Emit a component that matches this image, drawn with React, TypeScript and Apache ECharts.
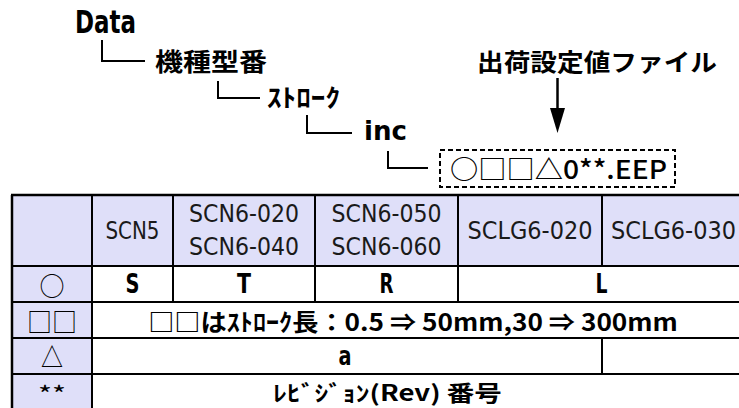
import React, { useEffect, useRef } from "react";
import * as echarts from "echarts";

// ---- content ----
const treeLabels = ["Data", "機種型番", "ｽﾄﾛｰｸ", "inc"];
const fileTitle = "出荷設定値ファイル";
const fileName = "○□□△0**.EEP";
const symbolLabels = ["○", "□□", "△", "**"];
const modelLabels = [
  ["SCN5"],
  ["SCN6-020", "SCN6-040"],
  ["SCN6-050", "SCN6-060"],
  ["SCLG6-020"],
  ["SCLG6-030"],
];
const prefixCodes = ["S", "T", "R", "L"];
const prefixSpans = [1, 1, 1, 2];
const strokeNote = "□□はｽﾄﾛｰｸ長：0.5 ⇒ 50mm,30 ⇒ 300mm";
const typeCodes = ["a", ""];
const typeSpans = [4, 1];
const revisionNote = "ﾚﾋﾞｼﾞｮﾝ(Rev) 番号";

// ---- layout ----
const FONT_JP = '"Noto Sans CJK JP", sans-serif';
const FONT_NARROW = '"Liberation Sans Narrow", "DejaVu Sans Condensed", "Liberation Sans", sans-serif';
const LAVENDER = "#DFDFF9";

const colX = [12, 92, 173, 315, 458, 602, 745];
const rowY = [195, 266, 302, 338, 374, 410];

let ctx: CanvasRenderingContext2D | null = null;
function measure(text: string, size: number, weight: string, family: string) {
  if (!ctx) ctx = document.createElement("canvas").getContext("2d");
  if (!ctx) return text.length * size * 0.6;
  ctx.font = `${weight} ${size}px ${family}`;
  return ctx.measureText(text).width || 1;
}

function txt(
  text: string,
  cx: number,
  cy: number,
  size: number,
  weight: string,
  family: string,
  width?: number,
  fill = "#000"
) {
  const sx = width ? width / measure(text, size, weight, family) : 1;
  return {
    type: "text",
    x: cx,
    y: cy,
    scaleX: sx,
    z: 10,
    style: {
      text,
      fontSize: size,
      fontWeight: weight,
      fontFamily: family,
      fill,
      align: "center",
      verticalAlign: "middle",
    },
  };
}

function seg(x1: number, y1: number, x2: number, y2: number, w = 2) {
  return {
    type: "line",
    z: 5,
    shape: { x1, y1, x2, y2 },
    style: { stroke: "#000", lineWidth: w },
  };
}

function buildGraphic() {
  const g: any[] = [];

  // tree
  const treeBoxes = [
    { l: 75, r: 136, cy: 22, size: 32, fam: FONT_NARROW },
    { l: 155, r: 267, cy: 60.5, size: 25, fam: FONT_JP },
    { l: 267, r: 340, cy: 96, size: 25, fam: FONT_JP },
    { l: 364, r: 407, cy: 131, size: 27, fam: FONT_NARROW },
  ];
  treeLabels.forEach((t, i) => {
    const b = treeBoxes[i];
    g.push(txt(t, (b.l + b.r) / 2, b.cy, b.size, "bold", b.fam, b.r - b.l));
  });
  const connectors = [
    [[102, 40], [102, 61], [145, 61]],
    [[218, 81], [218, 98], [260, 98]],
    [[307, 115], [307, 133], [352, 133]],
    [[388, 151], [388, 168], [428, 168]],
  ];
  connectors.forEach((pts) =>
    g.push({
      type: "polyline",
      z: 5,
      shape: { points: pts },
      style: { stroke: "#000", lineWidth: 2, fill: null },
    })
  );

  // file title + arrow
  g.push(txt(fileTitle, 597, 61, 24, "bold", FONT_JP, 240));
  g.push(seg(557.5, 78, 557.5, 110, 2.5));
  g.push({
    type: "polygon",
    z: 5,
    shape: { points: [[550, 108], [565, 108], [557.5, 133]] },
    style: { fill: "#000" },
  });
  // dashed file box
  g.push({
    type: "rect",
    z: 5,
    shape: { x: 440, y: 150, width: 235, height: 37 },
    style: { fill: null, stroke: "#000", lineWidth: 2, lineDash: [5, 3] },
  });
  g.push(txt(fileName, 558.5, 168, 26, "500", FONT_JP, 217));

  // table fills
  g.push({
    type: "rect",
    z: 1,
    shape: { x: colX[0], y: rowY[0], width: colX[6] - colX[0], height: rowY[5] - rowY[0] },
    style: { fill: "#fff" },
  });
  g.push({
    type: "rect",
    z: 2,
    shape: { x: colX[0], y: rowY[0], width: colX[6] - colX[0], height: rowY[1] - rowY[0] },
    style: { fill: LAVENDER },
  });
  g.push({
    type: "rect",
    z: 2,
    shape: { x: colX[0], y: rowY[0], width: colX[1] - colX[0], height: rowY[5] - rowY[0] },
    style: { fill: LAVENDER },
  });

  // table lines
  for (let r = 1; r < rowY.length - 1; r++) g.push(seg(colX[0], rowY[r], colX[6], rowY[r], 2));
  g.push(seg(colX[1], rowY[0], colX[1], rowY[5], 2));
  for (let c = 2; c < colX.length - 1; c++) g.push(seg(colX[c], rowY[0], colX[c], rowY[1], 2));
  let c0 = 1;
  prefixSpans.forEach((s, i) => {
    if (i > 0) g.push(seg(colX[c0], rowY[1], colX[c0], rowY[2], 2));
    c0 += s;
  });
  c0 = 1;
  typeSpans.forEach((s, i) => {
    if (i > 0) g.push(seg(colX[c0], rowY[3], colX[c0], rowY[4], 2));
    c0 += s;
  });
  g.push(seg(colX[0] - 1, rowY[0], colX[6], rowY[0], 2.5));
  g.push(seg(colX[0], rowY[0], colX[0], rowY[5], 2.5));

  // header texts
  const modelWidths = [54, 110, 110, 125, 125];
  modelLabels.forEach((lines, i) => {
    const cx = (colX[i + 1] + colX[i + 2]) / 2;
    const cyMid = (rowY[0] + rowY[1]) / 2;
    if (lines.length === 1) {
      g.push(txt(lines[0], cx, cyMid, 25, "normal", FONT_NARROW, modelWidths[i], "#1a1a1a"));
    } else {
      g.push(txt(lines[0], cx, cyMid - 17, 25, "normal", FONT_NARROW, modelWidths[i], "#1a1a1a"));
      g.push(txt(lines[1], cx, cyMid + 16, 25, "normal", FONT_NARROW, modelWidths[i], "#1a1a1a"));
    }
  });

  // symbol column
  const symSize = [26, 26, 26, 22];
  const symW = [25, 50, 22, 28];
  const symCy = [284, 320, 356, 393];
  symbolLabels.forEach((s, i) => {
    g.push(txt(s, (colX[0] + colX[1]) / 2, symCy[i], symSize[i], "normal", FONT_JP, symW[i]));
  });

  // prefix row
  const codeW = [14, 14, 14, 12];
  c0 = 1;
  prefixCodes.forEach((code, i) => {
    const s = prefixSpans[i];
    const cx = (colX[c0] + colX[c0 + s]) / 2;
    g.push(txt(code, cx, (rowY[1] + rowY[2]) / 2, 27, "bold", FONT_NARROW, codeW[i]));
    c0 += s;
  });
  // stroke note
  g.push(txt(strokeNote, 413, (rowY[2] + rowY[3]) / 2, 24, "bold", FONT_JP, 530));
  // type row
  c0 = 1;
  typeCodes.forEach((code, i) => {
    const s = typeSpans[i];
    if (code)
      g.push(txt(code, (colX[c0] + colX[c0 + s]) / 2 - 2, (rowY[3] + rowY[4]) / 2, 27, "bold", FONT_NARROW, 13));
    c0 += s;
  });
  // revision row
  g.push(txt(revisionNote, 387.5, 391, 22, "bold", FONT_JP, 229));

  return g;
}

export default function App() {
  const ref = useRef<HTMLDivElement>(null);
  useEffect(() => {
    if (!ref.current) return;
    const chart = echarts.init(ref.current, undefined, { renderer: "svg" });
    chart.setOption({
      animation: false,
      backgroundColor: "#fff",
      graphic: { elements: buildGraphic() },
    });
    return () => chart.dispose();
  }, []);
  return (
    <div
      ref={ref}
      style={{ position: "fixed", left: 0, top: 0, width: 739, height: 408, background: "#fff" }}
    />
  );
}
